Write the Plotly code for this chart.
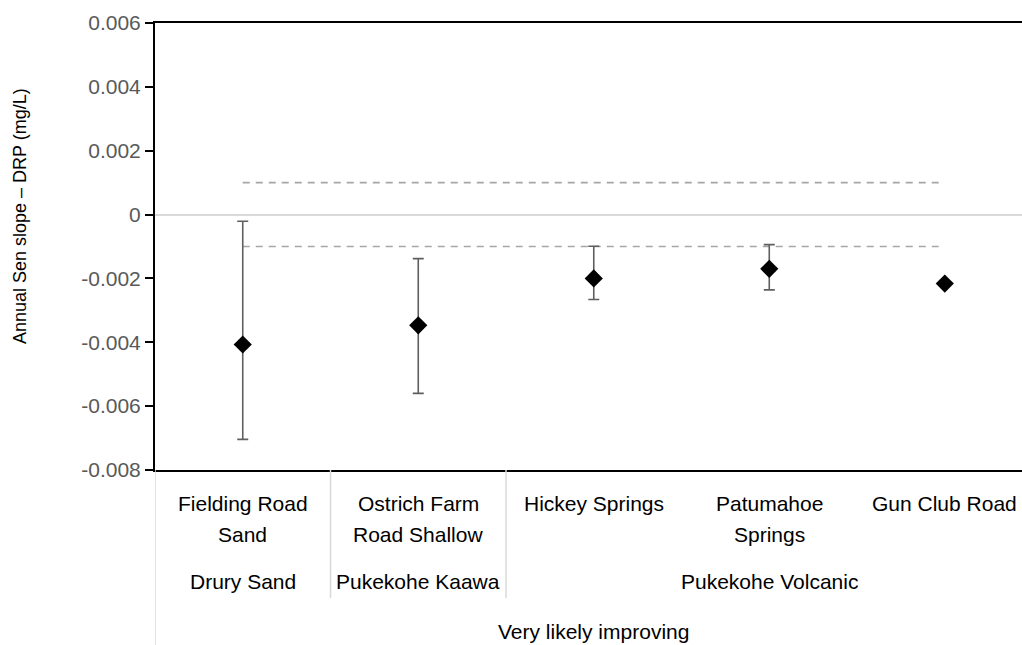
import plotly.graph_objects as go

# ---------------- data ----------------
sites = ["Fielding Road<br>Sand", "Ostrich Farm<br>Road Shallow", "Hickey Springs",
         "Patumahoe<br>Springs", "Gun Club Road"]
sen_slope = [-0.00407, -0.00347, -0.00200, -0.00170, -0.00216]
ci_upper = [-0.00021, -0.00138, -0.00099, -0.00094, None]
ci_lower = [-0.00704, -0.00560, -0.00266, -0.00236, None]

aquifers = ["Drury Sand", "Pukekohe Kaawa", "Pukekohe Volcanic"]
aquifer_first = [0, 1, 2]
aquifer_last = [0, 1, 4]
trend_group = "Very likely improving"

threshold_upper = [0.001] * len(sites)
threshold_lower = [-0.001] * len(sites)

y_tickvals = [-0.008, -0.006, -0.004, -0.002, 0, 0.002, 0.004, 0.006]
y_ticktext = ["-0.008", "-0.006", "-0.004", "-0.002", "0", "0.002", "0.004", "0.006"]
y_title = "Annual Sen slope \u2013 DRP (mg/L)"

# ---------------- layout constants ----------------
W, H = 1022, 645
ML, MR, MT, MB = 155, 0, 23, 175
PH = H - MT - MB
PW = W - ML - MR
FONT = "Liberation Sans, Arial, sans-serif"


def py(px):
    """pixel row -> paper y"""
    return (H - MB - px) / PH


def pxx(px):
    return (px - ML) / PW


xs = list(range(len(sites)))

err_plus = [None if u is None else u - v for u, v in zip(ci_upper, sen_slope)]
err_minus = [None if l is None else v - l for l, v in zip(ci_lower, sen_slope)]

fig = go.Figure()

for thr in (threshold_upper, threshold_lower):
    fig.add_trace(go.Scatter(
        x=xs, y=thr, mode="lines",
        line=dict(color="#a6a6a6", width=1.6, dash="7px,6px"),
        hoverinfo="skip", showlegend=False))

fig.add_trace(go.Scatter(
    x=xs, y=sen_slope, mode="markers",
    marker=dict(symbol="diamond", size=14, color="black"),
    error_y=dict(type="data", symmetric=False, array=err_plus, arrayminus=err_minus,
                 color="#5f5f5f", thickness=1.6, width=5.5),
    showlegend=False))

label_font = dict(family=FONT, size=21, color="black")
annotations = []
# site labels (one annotation per text line, to match the reference line spacing)
line_rows = [503, 534]
for x, s in zip(xs, sites):
    for row, part in zip(line_rows, s.split("<br>")):
        annotations.append(dict(x=x, y=py(row), xref="x", yref="paper", text=part,
                                showarrow=False, yanchor="middle", xanchor="center",
                                font=label_font))
# aquifer labels
for name, a, b in zip(aquifers, aquifer_first, aquifer_last):
    annotations.append(dict(x=(a + b) / 2, y=py(581), xref="x", yref="paper", text=name,
                            showarrow=False, yanchor="middle", xanchor="center",
                            font=label_font))
# trend label
annotations.append(dict(x=(xs[0] + xs[-1]) / 2, y=py(631), xref="x", yref="paper",
                        text=trend_group, showarrow=False, yanchor="middle",
                        xanchor="center", font=label_font))
# y title
annotations.append(dict(x=pxx(20), y=py(216), xref="paper", yref="paper", text=y_title,
                        textangle=-90, showarrow=False, xanchor="center", yanchor="middle",
                        font=dict(family=FONT, size=18, color="black")))

shapes = []
sep_color = "#d9d9d9"
# outer left separator
shapes.append(dict(type="line", xref="x", yref="paper", x0=-0.5, x1=-0.5,
                   y0=0, y1=py(H), line=dict(color=sep_color, width=1.5)))
# separators between aquifer groups
for b in aquifer_last[:-1]:
    shapes.append(dict(type="line", xref="x", yref="paper", x0=b + 0.5, x1=b + 0.5,
                       y0=0, y1=py(598), line=dict(color=sep_color, width=1.5)))

fig.update_layout(
    width=W, height=H,
    margin=dict(l=ML, r=MR, t=MT, b=MB, pad=0),
    paper_bgcolor="white", plot_bgcolor="white",
    showlegend=False,
    annotations=annotations,
    shapes=shapes,
    xaxis=dict(range=[-0.5, 4.44], showticklabels=False, ticks="", showgrid=False,
               zeroline=False, showline=True, mirror=True, linecolor="black",
               linewidth=2, fixedrange=True),
    yaxis=dict(range=[-0.008, 0.006], tickvals=y_tickvals, ticktext=y_ticktext,
               showgrid=False, zeroline=True, zerolinecolor="#d9d9d9", zerolinewidth=1.6,
               showline=True, linecolor="black", linewidth=2,
               ticks="outside", ticklen=8, tickwidth=2, tickcolor="black",
               tickfont=dict(family=FONT, size=21, color="#595959"), fixedrange=True),
)

fig.write_html("out.html", config={"displayModeBar": False})
